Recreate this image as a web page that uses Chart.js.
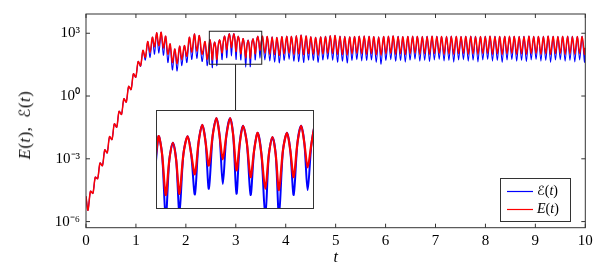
<!DOCTYPE html>
<html>
<head>
<meta charset="utf-8">
<script src="https://cdn.jsdelivr.net/npm/chart.js@4.4.1/dist/chart.umd.min.js"></script>
<style>
  html, body { margin: 0; padding: 0; background: #fff; }
  #wrap { position: relative; width: 615px; height: 273px; font-family: "Liberation Serif", serif; color: #000; }
  #inset { position: absolute; left: 156px; top: 110px; width: 156px; height: 97px; border: 1px solid #333; background: #fff; }
  #legend { position: absolute; left: 500px; top: 178px; width: 69px; height: 42px; border: 1px solid #333; font-size: 14px; }
  .lbl { position: absolute; left: 36px; line-height: 16px; white-space: nowrap; }
  .cal { font-family: "DejaVu Sans", sans-serif; font-style: italic; font-size: 0.92em; }
  #ytitle { position: absolute; left: 25px; top: 125px; transform: translate(-50%, -50%) rotate(-90deg);
            white-space: nowrap; font-size: 16.5px; letter-spacing: 0.6px; }
</style>
</head>
<body>
<div id="wrap">
  <canvas id="main" width="615" height="273"></canvas>
  <div id="ytitle"><i>E</i>(<i>t</i>), &thinsp;<span class="cal">ℰ</span>(<i>t</i>)</div>
  <div id="inset"><canvas id="zoom" width="156" height="97"></canvas></div>
  <div id="legend">
    <div class="lbl" style="top:4px"><span class="cal">ℰ</span>(<i>t</i>)</div>
    <div class="lbl" style="top:22px"><i>E</i>(<i>t</i>)</div>
  </div>
</div>
<script>
// time samples
const t = [
  0, 0.04, 0.09, 0.138, 0.186, 0.233, 0.281, 0.329, 0.377, 0.424,
  0.472, 0.52, 0.568, 0.615, 0.663, 0.711, 0.759, 0.806, 0.854, 0.902,
  0.95, 0.997, 1.045, 1.093, 1.141, 1.188, 1.236, 1.283, 1.33, 1.372,
  1.415, 1.46, 1.505, 1.55, 1.595, 1.64, 1.685, 1.73, 1.78, 1.825,
  1.875, 1.92, 1.97, 2.02, 2.07, 2.12, 2.17, 2.22, 2.27, 2.325,
  2.383, 2.43,
  2.48, 2.504, 2.529, 2.553, 2.577, 2.599, 2.621, 2.648, 2.676, 2.70,
  2.725, 2.75, 2.775, 2.797, 2.819, 2.845, 2.870, 2.891, 2.913, 2.937,
  2.962, 2.983, 3.005, 3.027, 3.049, 3.075, 3.100, 3.124, 3.148, 3.173,
  3.199, 3.223, 3.247, 3.269, 3.291, 3.318, 3.345, 3.367, 3.390, 3.415,
  3.440, 3.462, 3.484, 3.51, 3.535,
  3.583, 3.631, 3.68, 3.728, 3.777, 3.825, 3.874, 3.922, 3.97, 4.019,
  4.068, 4.116, 4.165, 4.213, 4.262, 4.31, 4.358, 4.407, 4.455, 4.504,
  4.552, 4.601, 4.65, 4.698, 4.746, 4.795, 4.843, 4.892, 4.94, 4.989,
  5.037, 5.086, 5.135, 5.183, 5.231, 5.28, 5.328, 5.377, 5.425, 5.474,
  5.522, 5.571, 5.62, 5.668, 5.716, 5.765, 5.813, 5.862, 5.91, 5.959,
  6.007, 6.056, 6.104, 6.153, 6.201, 6.25, 6.298, 6.347, 6.395, 6.444,
  6.492, 6.541, 6.589, 6.638, 6.686, 6.735, 6.783, 6.832, 6.88, 6.929,
  6.977, 7.026, 7.074, 7.123, 7.171, 7.22, 7.268, 7.317, 7.365, 7.414,
  7.462, 7.511, 7.559, 7.608, 7.656, 7.705, 7.753, 7.802, 7.85, 7.899,
  7.947, 7.996, 8.044, 8.093, 8.141, 8.19, 8.238, 8.287, 8.335, 8.384,
  8.432, 8.481, 8.529, 8.578, 8.626, 8.675, 8.723, 8.772, 8.82, 8.869,
  8.917, 8.966, 9.014, 9.063, 9.111, 9.16, 9.208, 9.257, 9.305, 9.354,
  9.402, 9.451, 9.499, 9.548, 9.596, 9.645, 9.693, 9.742, 9.79, 9.839,
  9.887, 9.936, 9.984, 10
];

// E(t), red
const E = [
  1.62e-5, 3.47e-6, 2.82e-5, 2.24e-5, 1.32e-4, 1.12e-4, 6.31e-4, 4.68e-4, 2.69e-3, 1.91e-3,
  1.15e-2, 8.32e-3, 4.68e-2, 3.24e-2, 0.186, 0.132, 0.741, 0.513, 2.88, 2.04,
  11.5, 7.94, 44.7, 28.2, 151, 70.8, 398, 126, 646, 224,
  1047, 251, 1122, 200, 724, 100, 309, 39.8, 178, 35.5,
  240, 56.2, 257, 79.4, 646, 126, 933, 141, 776, 100,
  398, 56.2,
  479, 251, 53.7, 200, 380, 200, 56.2, 251, 484, 251,
  117, 389, 741, 389, 162, 501, 955, 501, 204, 501,
  955, 501, 135, 372, 716, 372, 105, 288, 550, 245,
  67.6, 245, 468, 245, 64.6, 288, 550, 288, 105, 372,
  716, 372, 151, 372, 708,
  112, 692, 100, 661, 95.5, 631, 89.1, 676, 105, 724,
  112, 708, 100, 759, 105, 813, 95.5, 741, 107, 676,
  100, 631, 89.1, 661, 105, 708, 112, 759, 107, 776,
  100, 724, 95.5, 692, 91.2, 661, 105, 692, 112, 724,
  105, 741, 100, 708, 107, 676, 93.3, 661, 89.1, 692,
  105, 724, 110, 741, 100, 708, 105, 676, 95.5, 692,
  107, 724, 112, 708, 100, 692, 105, 708, 100, 724,
  107, 708, 110, 692, 100, 708, 105, 724, 100, 708,
  107, 692, 110, 708, 100, 724, 105, 708, 100, 692,
  107, 708, 110, 724, 100, 708, 105, 692, 97.7, 708,
  107, 724, 110, 708, 100, 692, 105, 708, 100, 724,
  107, 708, 110, 692, 100, 708, 105, 724, 97.7, 708,
  107, 692, 110, 708, 100, 724, 105, 708, 100, 692,
  107, 708, 100, 200
];

// script E(t), blue
const Ecal = [
  1.62e-5, 3.47e-6, 2.82e-5, 2.24e-5, 1.32e-4, 1.12e-4, 6.31e-4, 4.68e-4, 2.69e-3, 1.91e-3,
  1.15e-2, 8.32e-3, 4.68e-2, 3.24e-2, 0.186, 0.132, 0.741, 0.513, 2.88, 2.04,
  11.5, 7.94, 44.7, 26.3, 151, 52.5, 398, 70.8, 646, 100,
  1047, 112, 1122, 89.1, 724, 39.8, 309, 17.8, 178, 15.8,
  240, 28.2, 257, 39.8, 646, 56.2, 933, 63.1, 776, 44.7,
  398, 28.2,
  479, 251, 22.4, 200, 380, 200, 28.2, 251, 484, 251,
  55.0, 389, 741, 389, 67.6, 501, 955, 501, 81.3, 501,
  955, 501, 56.2, 372, 716, 372, 53.7, 288, 550, 245,
  24.0, 245, 468, 245, 25.1, 288, 550, 288, 53.7, 372,
  716, 372, 64.6, 372, 708,
  52.5, 692, 47.9, 661, 41.7, 631, 38.0, 676, 50.1, 724,
  56.2, 708, 45.7, 759, 43.7, 813, 39.8, 741, 52.5, 676,
  50.1, 631, 39.8, 661, 52.5, 708, 57.5, 759, 50.1, 776,
  41.7, 724, 45.7, 692, 38.0, 661, 50.1, 692, 55.0, 724,
  47.9, 741, 50.1, 708, 53.7, 676, 39.8, 661, 33.1, 692,
  50.1, 724, 55.0, 741, 45.7, 708, 50.1, 676, 41.7, 692,
  52.5, 724, 57.5, 708, 45.7, 692, 50.1, 708, 43.7, 724,
  52.5, 708, 56.2, 692, 47.9, 708, 50.1, 724, 41.7, 708,
  52.5, 692, 55.0, 708, 45.7, 724, 51.3, 708, 42.7, 692,
  52.5, 708, 56.2, 724, 46.8, 708, 50.1, 692, 39.8, 708,
  52.5, 724, 55.0, 708, 45.7, 692, 50.1, 708, 43.7, 724,
  53.7, 708, 56.2, 692, 46.8, 708, 50.1, 724, 40.7, 708,
  52.5, 692, 55.0, 708, 45.7, 724, 50.1, 708, 42.7, 692,
  52.5, 708, 41.7, 200
];

const xTicks = [0, 1, 2, 3, 4, 5, 6, 7, 8, 9, 10];
const yTicks = [1e-6, 1e-3, 1, 1e3];
const yTickLabels = ['10⁻⁶', '10⁻³', '10⁰', '10³'];

// zoomed window shown in the inset
const zoomT = [2.47, 3.52];
const zoomE = [33, 1247];

Chart.defaults.font.family = '"Liberation Serif", serif';
Chart.defaults.color = '#000';

const pts = ys => t.map((x, i) => ({ x: x, y: ys[i] }));

function datasets(wBlue, wRed) {
  return [
    { label: 'ℰ(t)', data: pts(Ecal), borderColor: '#0000ff', borderWidth: wBlue, order: 2 },
    { label: 'E(t)', data: pts(E), borderColor: '#ff0000', borderWidth: wRed, order: 1 }
  ];
}

const common = {
  responsive: false,
  animation: false,
  devicePixelRatio: 1,
  events: [],
  elements: { point: { radius: 0 }, line: { tension: 0.3 } },
  plugins: { legend: { display: false }, tooltip: { enabled: false } }
};

const frame = {
  id: 'frame',
  afterDraw(chart) {
    const { ctx, chartArea: a, scales: { x, y } } = chart;
    ctx.save();
    ctx.strokeStyle = '#333';
    ctx.lineWidth = 1;
    ctx.strokeRect(a.left, a.top, a.right - a.left, a.bottom - a.top);
    ctx.beginPath();
    xTicks.forEach(v => {
      const px = x.getPixelForValue(v);
      ctx.moveTo(px, a.bottom); ctx.lineTo(px, a.bottom - 4);
      ctx.moveTo(px, a.top); ctx.lineTo(px, a.top + 4);
    });
    yTicks.forEach(v => {
      const py = y.getPixelForValue(v);
      ctx.moveTo(a.left, py); ctx.lineTo(a.left + 4, py);
      ctx.moveTo(a.right, py); ctx.lineTo(a.right - 4, py);
    });
    ctx.stroke();

    // zoom box and connector to the inset
    const x0 = x.getPixelForValue(zoomT[0]), x1 = x.getPixelForValue(zoomT[1]);
    const y0 = y.getPixelForValue(zoomE[1]), y1 = y.getPixelForValue(zoomE[0]);
    ctx.strokeStyle = '#222';
    ctx.strokeRect(x0, y0, x1 - x0, y1 - y0);
    const inset = document.getElementById('inset');
    ctx.beginPath();
    ctx.moveTo((x0 + x1) / 2, y1);
    ctx.lineTo((x0 + x1) / 2, inset.offsetTop);
    ctx.stroke();

    // legend line samples, next to the html labels
    const lg = document.getElementById('legend');
    chart.data.datasets.forEach((ds, i) => {
      const ly = lg.offsetTop + 13.5 + i * 18;
      ctx.strokeStyle = ds.borderColor;
      ctx.lineWidth = 1.2;
      ctx.beginPath();
      ctx.moveTo(lg.offsetLeft + 7, ly);
      ctx.lineTo(lg.offsetLeft + 33, ly);
      ctx.stroke();
    });
    ctx.restore();
  }
};

new Chart(document.getElementById('main'), {
  type: 'line',
  data: { datasets: datasets(1.1, 1.5) },
  plugins: [frame],
  options: {
    ...common,
    layout: { padding: { top: 14, right: 29.7, left: 0, bottom: 0 } },
    scales: {
      x: {
        type: 'linear', min: 0, max: 10,
        afterBuildTicks: s => { s.ticks = xTicks.map(v => ({ value: v })); },
        afterFit: s => { s.height = 45.3; s.paddingLeft = 0; s.paddingRight = 0; },
        grid: { display: false, drawTicks: false },
        border: { display: false },
        ticks: { font: { size: 15 }, padding: 4, autoSkip: false, maxRotation: 0 },
        title: { display: true, text: 't', font: { size: 16, style: 'italic' }, padding: { top: 0, bottom: 6 } }
      },
      y: {
        type: 'logarithmic', min: 5.1e-7, max: 8318,
        afterBuildTicks: s => { s.ticks = yTicks.map(v => ({ value: v })); },
        afterFit: s => { s.width = 86; s.paddingTop = 0; s.paddingBottom = 0; },
        grid: { display: false, drawTicks: false },
        border: { display: false },
        ticks: { font: { size: 15 }, padding: 6, callback: (v, i) => yTickLabels[i] }
      }
    }
  }
});

new Chart(document.getElementById('zoom'), {
  type: 'line',
  data: { datasets: datasets(2, 2.2) },
  options: {
    ...common,
    layout: { padding: 0 },
    scales: {
      x: { type: 'linear', display: false, min: zoomT[0], max: zoomT[1] },
      y: { type: 'logarithmic', display: false, min: zoomE[0], max: zoomE[1] }
    }
  }
});
</script>
</body>
</html>
